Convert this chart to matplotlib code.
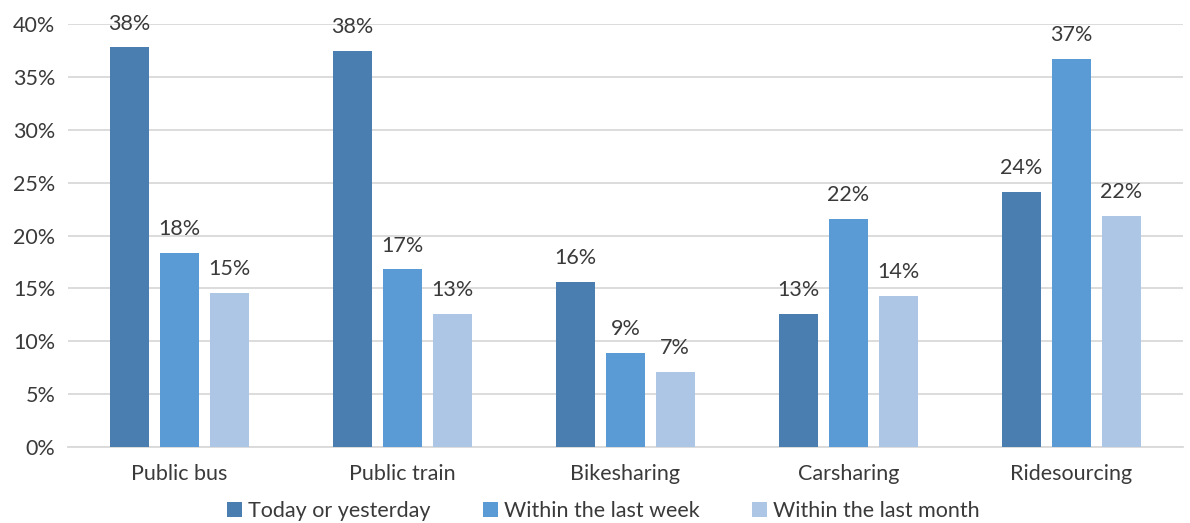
import numpy as np
import matplotlib
matplotlib.use("Agg")
import matplotlib.pyplot as plt

categories = ["Public bus", "Public train", "Bikesharing", "Carsharing", "Ridesourcing"]
series_names = ["Today or yesterday", "Within the last week", "Within the last month"]
today = [37.8, 37.5, 15.6, 12.6, 24.1]
week = [18.4, 16.8, 8.9, 21.6, 36.7]
month = [14.6, 12.6, 7.1, 14.3, 21.9]
yticks = [0, 5, 10, 15, 20, 25, 30, 35, 40]

colors = ["#4a7eb1", "#5b9bd5", "#adc6e5"]
text_color = "#3a3a3a"

plt.rcParams["font.family"] = ["Lato", "DejaVu Sans"]

fig = plt.figure(figsize=(11.9, 5.23), dpi=100)
ax = fig.add_axes([0.057, 0.145, 0.937, 0.809])

x = np.arange(len(categories))
width = 0.175
step = 0.224
for i, (vals, name) in enumerate(zip([today, week, month], series_names)):
    pos = x + (i - 1) * step
    ax.bar(pos, vals, width, color=colors[i], label=name, zorder=3)
    for p, v in zip(pos, vals):
        ax.text(p, v + 1.3, "%d%%" % round(v), ha="center", va="bottom",
                fontsize=15.5, color=text_color, clip_on=False)

ax.set_xlim(-0.5, len(categories) - 0.5)
ax.set_ylim(0, 40)
ax.set_yticks(yticks)
ax.set_yticklabels(["%d%%" % t for t in yticks])
ax.set_xticks(x)
ax.set_xticklabels(categories)
ax.tick_params(axis="both", length=0, labelsize=15.5, labelcolor=text_color)
ax.tick_params(axis="x", pad=12)
ax.tick_params(axis="y", pad=9)
ax.yaxis.grid(True, color="#d9d9d9", linewidth=1.3, zorder=0)
for s in ["top", "right", "left"]:
    ax.spines[s].set_visible(False)
ax.spines["bottom"].set_color("#d9d9d9")
ax.spines["bottom"].set_linewidth(1.3)

leg = fig.legend(loc="center", bbox_to_anchor=(0.507, 0.022), ncol=3, frameon=False,
                 fontsize=15.5, handlelength=0.7, handleheight=0.7, handletextpad=0.3,
                 columnspacing=2.4)
for t in leg.get_texts():
    t.set_color(text_color)

fig.savefig("out.png", dpi=100)
